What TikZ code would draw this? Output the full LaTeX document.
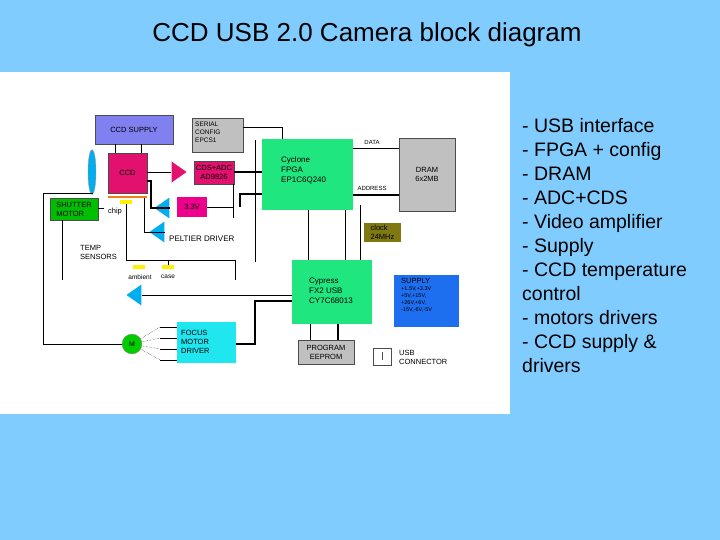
\documentclass[tikz,border=0pt]{standalone}
\usepackage{fontspec}
\setmainfont{Liberation Sans}
\usetikzlibrary{shapes.geometric}
\definecolor{skyback}{RGB}{128,204,255}
\definecolor{violetbox}{RGB}{128,128,240}
\definecolor{ccdred}{RGB}{226,16,110}
\definecolor{fpgagreen}{RGB}{32,230,128}
\definecolor{graybox}{RGB}{192,192,192}
\definecolor{olivebox}{RGB}{128,120,16}
\definecolor{supplyblue}{RGB}{30,110,240}
\definecolor{cyanbox}{RGB}{32,230,240}
\tikzset{
  blk/.style={draw=black!70,inner sep=2pt,font=\fontsize{7.5}{8.5}\selectfont,align=left},
  amp/.style={isosceles triangle,isosceles triangle apex angle=70,inner sep=0pt,minimum size=15pt,draw=none},
  lbl/.style={font=\fontsize{7.5}{9}\selectfont,inner sep=1pt},
  wire/.style={black,line width=0.6pt},
  bus/.style={black,line width=1.6pt}
}
\begin{document}
\begin{tikzpicture}[x=1pt,y=-1pt]
  \useasboundingbox (0,0) rectangle (720,540);
  \fill[skyback] (0,0) rectangle (720,540);
  \fill[white] (0,72) rectangle (510,414);
  \node[font=\fontsize{26}{30}\selectfont] (title) at (367,35) {CCD USB 2.0 Camera block diagram};
  \node[anchor=north west,align=left,font=\fontsize{19.5}{24}\selectfont,inner sep=0pt] (list) at (522,118)
    {- USB interface\\- FPGA + config\\- DRAM\\- ADC+CDS\\- Video amplifier\\- Supply\\- CCD temperature\\control\\- motors drivers\\- CCD supply \&\\drivers};

  % blocks
  \path[blk,fill=violetbox] (95,115) rectangle node[lbl] (sup) {CCD SUPPLY} (173,144);
  \path[blk,fill=graybox] (192,118) rectangle (243,152);
  \node[lbl,align=left,anchor=north west,font=\fontsize{6.5}{8}\selectfont] (cfg) at (194,121) {SERIAL\\CONFIG\\EPCS1};
  \path[blk,fill=ccdred] (108,153) rectangle node[lbl] (ccd) {CCD} (147,193);
  \fill[orange!70!brown] (108,196) rectangle (147,198);
  \path[blk,fill=ccdred] (194,161) rectangle node[lbl,align=center] (adc) {CDS+ADC\\AD9826} (234,184);
  \path[blk,fill=magenta,draw=none] (177,197) rectangle node[lbl] (vreg) {3.3V} (207,217);
  \path[blk,fill=green!75!black] (50,198) rectangle node[lbl,align=left] (shut) {SHUTTER\\MOTOR} (98,220);
  \path[blk,fill=fpgagreen,draw=none] (262,139) rectangle (353,210);
  \node[lbl,align=left,anchor=north west,font=\fontsize{8}{10}\selectfont] (fpga) at (280,156) {Cyclone\\FPGA\\EP1C6Q240};
  \path[blk,fill=graybox] (399,138) rectangle node[lbl,align=center] (dram) {DRAM\\6x2MB} (455,211);
  \path[blk,fill=olivebox,draw=none] (364,223) rectangle node[lbl,align=left] (clk) {clock\\24MHz} (401,242);
  \path[blk,fill=fpgagreen,draw=none] (292,260) rectangle (372,324);
  \node[lbl,align=left,anchor=north west,font=\fontsize{8}{10}\selectfont] (usb) at (308,277) {Cypress\\FX2 USB\\CY7C68013};
  \path[blk,fill=supplyblue,draw=none] (394,275) rectangle (459,327);
  \node[lbl,align=left,anchor=north west,font=\fontsize{5.5}{7}\selectfont] (psu) at (400,277) {{\fontsize{7.5}{8}\selectfont SUPPLY}\\+1.5V,+3.3V\\+5V,+15V,\\+26V,+6V,\\-15V,-6V,-5V};
  \path[blk,fill=cyanbox,draw=none] (177,322) rectangle (236,363);
  \node[lbl,align=left,anchor=west] (foc) at (180,342) {FOCUS\\MOTOR\\DRIVER};
  \path[blk,fill=graybox] (298,340) rectangle node[lbl,align=center] (eep) {PROGRAM\\EEPROM} (354,364);
  \draw[black!70] (373,348) rectangle (391,365);
  \draw[black!70] (382,352) -- (382,360);
  \node[lbl,align=left,anchor=west] (con) at (398,357) {USB\\CONNECTOR};

  % small parts
  \node[ellipse,fill=cyan,draw=black!40,minimum width=8pt,minimum height=45pt,inner sep=0pt] (lens) at (92,172) {};
  \node[amp,fill=ccdred] (vamp) at (177,172) {};
  \node[amp,fill=cyan,shape border rotate=180] (camp) at (164,208) {};
  \node[amp,fill=cyan,shape border rotate=180] (pelt) at (159,232) {};
  \node[lbl,anchor=west,font=\fontsize{8}{9}\selectfont] (peltl) at (168,239) {PELTIER DRIVER};
  \node[amp,fill=cyan,shape border rotate=180] (famp) at (136,295) {};
  \node[circle,fill=green!80!black,draw=black!40,minimum size=20pt,inner sep=0pt,font=\fontsize{7}{8}\selectfont] (mot) at (132,344) {M};
  \fill[yellow] (120,200) rectangle (132,204);
  \node[lbl] (chip) at (115,212) {chip};
  \node[lbl,align=left,anchor=west] (temp) at (79,252) {TEMP\\SENSORS};
  \fill[yellow] (133,265) rectangle (145,269);
  \fill[yellow] (162,265) rectangle (174,269);
  \node[lbl,font=\fontsize{6.5}{8}\selectfont] (amb) at (140,277) {ambient};
  \node[lbl,font=\fontsize{6.5}{8}\selectfont] (cas) at (168,277) {case};
  \node[lbl,font=\fontsize{6}{7}\selectfont] (data) at (372,142) {DATA};
  \node[lbl,font=\fontsize{6}{7}\selectfont] (addr) at (372,188) {ADDRESS};

  % connections
  \draw[wire] (115,144) -- (115,153) (141,144) -- (141,153);
  \draw[wire] (243,127) -- (282,127) -- (282,139);
  \draw[wire] (147,172) -- (vamp.west);
  \draw[bus] (234,172) -- (262,172);
  \draw[bus] (147,181) -- (151,181) -- (151,208) -- (camp.east);
  \draw[wire] (207,207) -- (233,207) (233,184) -- (233,218);
  \draw[bus] (240,207) -- (240,194) -- (262,194);
  \draw[wire] (255,140) -- (255,262);
  \draw[wire] (144,198) -- (144,232) -- (pelt.east);
  \draw[wire] (98,208) -- (104,208);
  \draw[wire] (126,204) -- (126,260) -- (235,260) -- (235,280);
  \draw[wire] (168,265) -- (168,260);
  \draw[wire] (353,148) -- (399,148);
  \draw[bus] (353,195) -- (399,195);
  \draw[wire] (308,210) -- (308,260) (345,210) -- (345,260) (360,205) -- (360,260);
  \draw[wire] (92,194) -- (92,193) -- (43,193) -- (43,344) -- (mot.west);
  \draw[wire] (62,220) -- (62,280);
  \draw[wire] (famp.east) -- (292,295);
  \draw[bus] (236,344) -- (255,344) -- (255,301) -- (292,301);
  \draw[wire] (310,324) -- (310,340);
  \draw[bus] (338,324) -- (338,340);
  \foreach \yy in {327,338,349,360}{
    \draw[densely dotted] (mot) -- (160,\yy);
    \draw[wire] (160,\yy) -- (177,\yy);
  }
\end{tikzpicture}
\end{document}
